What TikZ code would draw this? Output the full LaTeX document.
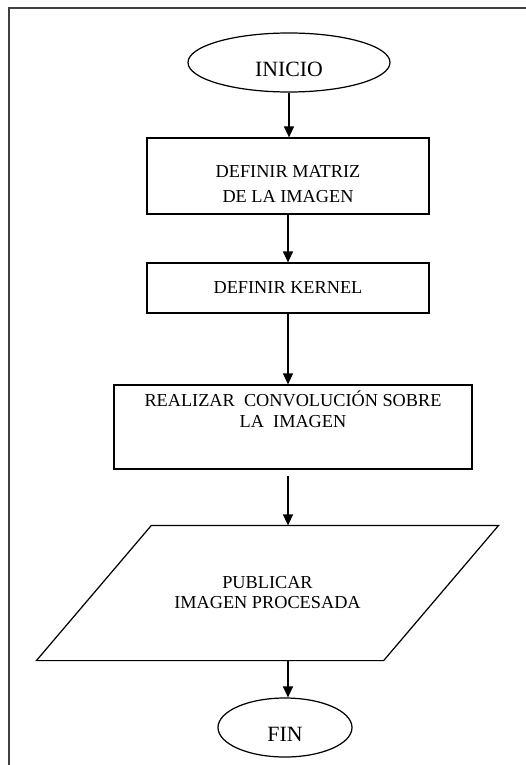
\documentclass[tikz,border=0pt]{standalone}
\usepackage{fontspec}
\setmainfont{Liberation Serif}
\usetikzlibrary{arrows.meta, shapes.geometric}

\tikzset{
  paso/.style={draw, line width=0.7pt, font=\fontsize{10.4}{11.4}\selectfont, align=center},
  caja/.style={paso, rectangle, minimum width=5.64cm},
  extremo/.style={draw, line width=0.7pt, ellipse, inner sep=0pt, minimum height=1.18cm,
    font=\fontsize{12.4}{14}\selectfont, text height=0.6cm, text depth=0.04cm},
  flecha/.style={-{Triangle[length=2.2mm,width=2mm]}, line width=0.7pt},
}

\begin{document}
\begin{tikzpicture}
\useasboundingbox (0,0) rectangle (10.5,-15.3);
\draw[black!75, line width=0.9pt] (0.18,-15.6) -- (0.18,-0.16) -- (10.8,-0.16); %marco

\node[extremo, minimum width=4.04cm] (inicio) at (5.78,-1.25) {INICIO};
\node[caja, minimum height=1.52cm, text height=1.1cm, text depth=0.06cm] (matriz) at (5.76,-3.52) {DEFINIR MATRIZ\\[2.8pt]DE LA IMAGEN};
\node[caja, minimum height=1cm] (kernel) at (5.76,-5.76) {DEFINIR KERNEL};
\node[paso, minimum width=7.16cm, minimum height=1.68cm, text height=0.7cm, text depth=0.7cm] (conv) at (5.86,-8.54) {REALIZAR\ \ CONVOLUCIÓN SOBRE\\LA\ \ IMAGEN};

% paralelogramo de salida
\node[paso, draw=none, minimum width=6.92cm, minimum height=2.68cm] (publicar) at (5.35,-11.86) {PUBLICAR\\IMAGEN PROCESADA};
\draw[line width=0.7pt] ([xshift=1.15cm]publicar.north west) -- ([xshift=1.15cm]publicar.north east)
  -- ([xshift=-1.15cm]publicar.south east) -- ([xshift=-1.15cm]publicar.south west) -- cycle;

\node[extremo, minimum width=2.68cm] (fin) at (5.70,-14.55) {FIN};

\draw[flecha] (inicio) -- (inicio |- matriz.north);
\draw[flecha] (matriz) -- (kernel);
\draw[flecha] (kernel) -- (kernel |- conv.north);
\draw[flecha] ([yshift=-0.12cm]conv.south -| kernel) -- (kernel |- publicar.north);
\draw[flecha] (publicar.south -| kernel) -- (kernel |- fin.north);

\end{tikzpicture}
\end{document}
